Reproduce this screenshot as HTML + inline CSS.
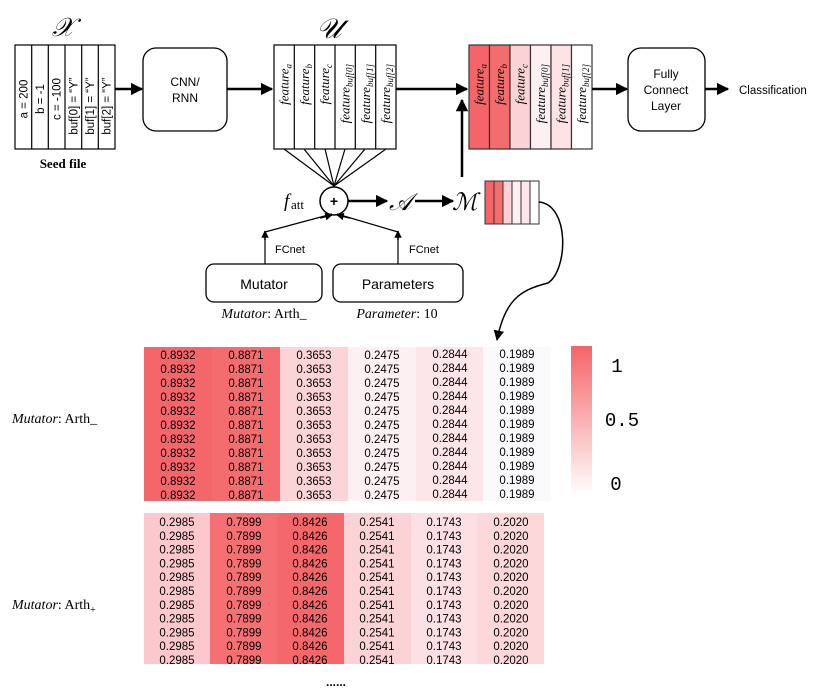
<!DOCTYPE html>
<html><head><meta charset="utf-8"><style>
html,body{margin:0;padding:0;background:#fff;}
svg{display:block;}
.s{font-family:"Liberation Sans",sans-serif;}
.r{font-family:"Liberation Serif",serif;}
.i{font-family:"Liberation Serif",serif;font-style:italic;}
.m{font-family:"Liberation Mono",monospace;}
</style></head><body>
<svg width="830" height="694" viewBox="0 0 830 694" xmlns="http://www.w3.org/2000/svg">
<defs>
<marker id="ah" viewBox="0 0 10 10" refX="9" refY="5" markerWidth="5" markerHeight="5" orient="auto-start-reverse"><path d="M0,0L10,5L0,10z" fill="#000"/></marker>
<marker id="ah2" viewBox="0 0 10 10" refX="9" refY="5" markerWidth="7" markerHeight="7" orient="auto"><path d="M0,0L10,5L0,10z" fill="#000"/></marker>
<linearGradient id="cb" x1="0" y1="0" x2="0" y2="1"><stop offset="0" stop-color="#f46468"/><stop offset="1" stop-color="#fff"/></linearGradient>
</defs>

<text x="63" y="36" class="i" font-size="26" text-anchor="middle">𝒳</text>
<g stroke="#000" stroke-width="1.2" fill="#fff">
<rect x="15" y="45" width="100" height="104"/>
<line x1="31.7" y1="45" x2="31.7" y2="149"/><line x1="48.3" y1="45" x2="48.3" y2="149"/><line x1="65" y1="45" x2="65" y2="149"/><line x1="81.7" y1="45" x2="81.7" y2="149"/><line x1="98.3" y1="45" x2="98.3" y2="149"/>
</g>
<g class="s" font-size="11.5" text-anchor="middle">
<text transform="translate(27.5,99) rotate(-90)">a = 200</text>
<text transform="translate(44,99) rotate(-90)">b = -1</text>
<text transform="translate(60.7,99) rotate(-90)">c = -100</text>
<text transform="translate(77.3,106) rotate(-90)">buf[0] = “Y”</text>
<text transform="translate(94,106) rotate(-90)">buf[1] = “Y”</text>
<text transform="translate(110.7,106) rotate(-90)">buf[2] = “Y”</text>
</g>
<text x="63" y="168" class="r" font-size="13" font-weight="bold" text-anchor="middle">Seed file</text>

<line x1="115" y1="89" x2="142" y2="89" stroke="#000" stroke-width="2.5" marker-end="url(#ah)"/>
<rect x="143" y="48" width="84" height="83" rx="13" fill="#fff" stroke="#000" stroke-width="1.3"/>
<text x="185" y="86" class="s" font-size="12" text-anchor="middle">CNN/</text>
<text x="185" y="102" class="s" font-size="12" text-anchor="middle">RNN</text>
<line x1="227" y1="89" x2="272" y2="89" stroke="#000" stroke-width="2.5" marker-end="url(#ah)"/>

<text x="329" y="38" class="i" font-size="28" text-anchor="middle">𝒰</text>
<g stroke="#000" stroke-width="1.2" fill="#fff">
<rect x="274" y="45" width="122" height="104"/>
<line x1="294.3" y1="45" x2="294.3" y2="149"/><line x1="314.7" y1="45" x2="314.7" y2="149"/><line x1="335" y1="45" x2="335" y2="149"/><line x1="355.3" y1="45" x2="355.3" y2="149"/><line x1="375.7" y1="45" x2="375.7" y2="149"/>
</g>
<g class="i" font-size="13" text-anchor="end">
<text transform="translate(288.5,64) rotate(-90)">feature<tspan font-size="9" dy="3">a</tspan></text>
<text transform="translate(308.8,64) rotate(-90)">feature<tspan font-size="9" dy="3">b</tspan></text>
<text transform="translate(329.2,64) rotate(-90)">feature<tspan font-size="9" dy="3">c</tspan></text>
<text transform="translate(349.5,64) rotate(-90)">feature<tspan font-size="9" dy="3">buf[0]</tspan></text>
<text transform="translate(369.8,64) rotate(-90)">feature<tspan font-size="9" dy="3">buf[1]</tspan></text>
<text transform="translate(390.2,64) rotate(-90)">feature<tspan font-size="9" dy="3">buf[2]</tspan></text>
</g>
<g stroke="#000" stroke-width="1.2">
<line x1="284" y1="149" x2="334" y2="186"/><line x1="304" y1="149" x2="334" y2="186"/><line x1="325" y1="149" x2="334" y2="186"/><line x1="345" y1="149" x2="334" y2="186"/><line x1="365" y1="149" x2="334" y2="186"/><line x1="386" y1="149" x2="334" y2="186"/>
</g>
<line x1="396" y1="89" x2="467" y2="89" stroke="#000" stroke-width="2.5" marker-end="url(#ah)"/>

<circle cx="334" cy="201" r="14" fill="#fff" stroke="#000" stroke-width="1.5"/>
<text x="334" y="206" class="s" font-size="14" font-weight="bold" text-anchor="middle">+</text>
<text x="284" y="207" class="i" font-size="19">f</text><text x="291" y="209" class="r" font-size="13">att</text>
<line x1="348" y1="201" x2="387" y2="201" stroke="#000" stroke-width="2.5" marker-end="url(#ah)"/>
<text x="389" y="210" class="i" font-size="24">𝒜</text>
<line x1="415" y1="201" x2="453" y2="201" stroke="#000" stroke-width="2.5" marker-end="url(#ah)"/>
<text x="452" y="210" class="i" font-size="24">ℳ</text>
<line x1="462" y1="177" x2="462" y2="100" stroke="#000" stroke-width="2.5" marker-end="url(#ah)"/>

<g stroke="#000" stroke-width="1.2" fill="none">
<polyline points="265,264 265,232 332,214" />
<polyline points="398,264 398,232 337,214" />
</g>
<line x1="265" y1="240" x2="265" y2="231" stroke="#000" stroke-width="1.5" marker-end="url(#ah)"/>
<line x1="398" y1="240" x2="398" y2="231" stroke="#000" stroke-width="1.5" marker-end="url(#ah)"/>
<line x1="320" y1="218" x2="332" y2="215" stroke="#000" stroke-width="1.5" marker-end="url(#ah)"/>
<line x1="350" y1="218" x2="337" y2="215" stroke="#000" stroke-width="1.5" marker-end="url(#ah)"/>
<text x="275" y="253" class="s" font-size="11">FCnet</text>
<text x="409" y="253" class="s" font-size="11">FCnet</text>
<rect x="206" y="264" width="116" height="38" rx="8" fill="#fff" stroke="#000" stroke-width="1.3"/>
<text x="264" y="289" class="s" font-size="14" text-anchor="middle">Mutator</text>
<rect x="333" y="264" width="130" height="38" rx="8" fill="#fff" stroke="#000" stroke-width="1.3"/>
<text x="398" y="289" class="s" font-size="14" text-anchor="middle">Parameters</text>
<text x="264" y="318" class="r" font-size="14" text-anchor="middle"><tspan font-style="italic">Mutator</tspan>: Arth_</text>
<text x="397" y="318" class="r" font-size="14" text-anchor="middle"><tspan font-style="italic">Parameter</tspan>: 10</text>

<g stroke="#333" stroke-width="1">
<rect x="485" y="181" width="9" height="43" fill="#f46468"/>
<rect x="494" y="181" width="9" height="43" fill="#f56c6e"/>
<rect x="503" y="181" width="9" height="43" fill="#fbd3d6"/>
<rect x="512" y="181" width="9" height="43" fill="#fdf0f3"/>
<rect x="521" y="181" width="9" height="43" fill="#fde6e9"/>
<rect x="530" y="181" width="9" height="43" fill="#fff"/>
</g>
<path d="M539,202 C570,205 568,270 548,283 C520,290 505,300 497,340" fill="none" stroke="#000" stroke-width="1.5" marker-end="url(#ah2)"/>

<g stroke="#333" stroke-width="1.2">
<rect x="469" y="45" width="20.5" height="104" fill="#f46468"/>
<rect x="489.5" y="45" width="20.5" height="104" fill="#f56c6e"/>
<rect x="510" y="45" width="20.5" height="104" fill="#fbd3d6"/>
<rect x="530.5" y="45" width="20.5" height="104" fill="#fdf0f3"/>
<rect x="551" y="45" width="20.5" height="104" fill="#fde3e6"/>
<rect x="571.5" y="45" width="20.5" height="104" fill="#fff"/>
</g>
<g class="i" font-size="13" text-anchor="end">
<text transform="translate(483.5,64) rotate(-90)">feature<tspan font-size="9" dy="3">a</tspan></text>
<text transform="translate(504,64) rotate(-90)">feature<tspan font-size="9" dy="3">b</tspan></text>
<text transform="translate(524.5,64) rotate(-90)">feature<tspan font-size="9" dy="3">c</tspan></text>
<text transform="translate(545,64) rotate(-90)">feature<tspan font-size="9" dy="3">buf[0]</tspan></text>
<text transform="translate(565.5,64) rotate(-90)">feature<tspan font-size="9" dy="3">buf[1]</tspan></text>
<text transform="translate(586,64) rotate(-90)">feature<tspan font-size="9" dy="3">buf[2]</tspan></text>
</g>
<line x1="592" y1="89" x2="627" y2="89" stroke="#000" stroke-width="2.5" marker-end="url(#ah)"/>
<rect x="628" y="48" width="77" height="83" rx="13" fill="#fff" stroke="#000" stroke-width="1.3"/>
<g class="s" font-size="12" text-anchor="middle">
<text x="666" y="78">Fully</text><text x="666" y="94">Connect</text><text x="666" y="110">Layer</text>
</g>
<line x1="705" y1="89" x2="728" y2="89" stroke="#000" stroke-width="2.5" marker-end="url(#ah)"/>
<text x="739" y="94" class="s" font-size="11.5">Classification</text>

<rect x="144" y="347" width="68" height="154" fill="#f46669"/>
<rect x="212" y="347" width="68" height="154" fill="#f56c6e"/>
<rect x="280" y="347" width="68" height="154" fill="#fbd4d7"/>
<rect x="348" y="347" width="68" height="154" fill="#fdf0f3"/>
<rect x="416" y="347" width="67" height="154" fill="#fde6e9"/>
<rect x="483" y="347" width="68" height="154" fill="#fafafd"/>
<g class="s" font-size="11.5" text-anchor="middle">
<g><text x="178" y="359">0.8932</text><text x="246" y="359">0.8871</text><text x="314" y="359">0.3653</text><text x="382" y="359">0.2475</text><text x="450" y="358">0.2844</text><text x="517" y="358">0.1989</text></g>
<g transform="translate(0,14)"><text x="178" y="359">0.8932</text><text x="246" y="359">0.8871</text><text x="314" y="359">0.3653</text><text x="382" y="359">0.2475</text><text x="450" y="358">0.2844</text><text x="517" y="358">0.1989</text></g>
<g transform="translate(0,28)"><text x="178" y="359">0.8932</text><text x="246" y="359">0.8871</text><text x="314" y="359">0.3653</text><text x="382" y="359">0.2475</text><text x="450" y="358">0.2844</text><text x="517" y="358">0.1989</text></g>
<g transform="translate(0,42)"><text x="178" y="359">0.8932</text><text x="246" y="359">0.8871</text><text x="314" y="359">0.3653</text><text x="382" y="359">0.2475</text><text x="450" y="358">0.2844</text><text x="517" y="358">0.1989</text></g>
<g transform="translate(0,56)"><text x="178" y="359">0.8932</text><text x="246" y="359">0.8871</text><text x="314" y="359">0.3653</text><text x="382" y="359">0.2475</text><text x="450" y="358">0.2844</text><text x="517" y="358">0.1989</text></g>
<g transform="translate(0,70)"><text x="178" y="359">0.8932</text><text x="246" y="359">0.8871</text><text x="314" y="359">0.3653</text><text x="382" y="359">0.2475</text><text x="450" y="358">0.2844</text><text x="517" y="358">0.1989</text></g>
<g transform="translate(0,84)"><text x="178" y="359">0.8932</text><text x="246" y="359">0.8871</text><text x="314" y="359">0.3653</text><text x="382" y="359">0.2475</text><text x="450" y="358">0.2844</text><text x="517" y="358">0.1989</text></g>
<g transform="translate(0,98)"><text x="178" y="359">0.8932</text><text x="246" y="359">0.8871</text><text x="314" y="359">0.3653</text><text x="382" y="359">0.2475</text><text x="450" y="358">0.2844</text><text x="517" y="358">0.1989</text></g>
<g transform="translate(0,112)"><text x="178" y="359">0.8932</text><text x="246" y="359">0.8871</text><text x="314" y="359">0.3653</text><text x="382" y="359">0.2475</text><text x="450" y="358">0.2844</text><text x="517" y="358">0.1989</text></g>
<g transform="translate(0,126)"><text x="178" y="359">0.8932</text><text x="246" y="359">0.8871</text><text x="314" y="359">0.3653</text><text x="382" y="359">0.2475</text><text x="450" y="358">0.2844</text><text x="517" y="358">0.1989</text></g>
<g transform="translate(0,140)"><text x="178" y="359">0.8932</text><text x="246" y="359">0.8871</text><text x="314" y="359">0.3653</text><text x="382" y="359">0.2475</text><text x="450" y="358">0.2844</text><text x="517" y="358">0.1989</text></g>
</g>
<text x="12" y="423" class="r" font-size="14"><tspan font-style="italic">Mutator</tspan>: Arth_</text>

<rect x="571" y="346" width="21" height="149" fill="url(#cb)"/>
<g class="m" font-size="19" text-anchor="middle">
<text x="617" y="372">1</text><text x="622" y="426">0.5</text><text x="616" y="490">0</text>
</g>

<rect x="144" y="513" width="66" height="151" fill="#fbc9cd"/>
<rect x="210" y="513" width="67" height="151" fill="#f57073"/>
<rect x="277" y="513" width="67" height="151" fill="#f4686b"/>
<rect x="344" y="513" width="67" height="151" fill="#fbd3d6"/>
<rect x="411" y="513" width="66" height="151" fill="#fde0e3"/>
<rect x="477" y="513" width="67" height="151" fill="#fcd8db"/>
<g class="s" font-size="11.5" text-anchor="middle">
<g><text x="177" y="526">0.2985</text><text x="244" y="526">0.7899</text><text x="310" y="526">0.8426</text><text x="377" y="526">0.2541</text><text x="444" y="526">0.1743</text><text x="511" y="526">0.2020</text></g>
<g transform="translate(0,13.8)"><text x="177" y="526">0.2985</text><text x="244" y="526">0.7899</text><text x="310" y="526">0.8426</text><text x="377" y="526">0.2541</text><text x="444" y="526">0.1743</text><text x="511" y="526">0.2020</text></g>
<g transform="translate(0,27.6)"><text x="177" y="526">0.2985</text><text x="244" y="526">0.7899</text><text x="310" y="526">0.8426</text><text x="377" y="526">0.2541</text><text x="444" y="526">0.1743</text><text x="511" y="526">0.2020</text></g>
<g transform="translate(0,41.4)"><text x="177" y="526">0.2985</text><text x="244" y="526">0.7899</text><text x="310" y="526">0.8426</text><text x="377" y="526">0.2541</text><text x="444" y="526">0.1743</text><text x="511" y="526">0.2020</text></g>
<g transform="translate(0,55.2)"><text x="177" y="526">0.2985</text><text x="244" y="526">0.7899</text><text x="310" y="526">0.8426</text><text x="377" y="526">0.2541</text><text x="444" y="526">0.1743</text><text x="511" y="526">0.2020</text></g>
<g transform="translate(0,69)"><text x="177" y="526">0.2985</text><text x="244" y="526">0.7899</text><text x="310" y="526">0.8426</text><text x="377" y="526">0.2541</text><text x="444" y="526">0.1743</text><text x="511" y="526">0.2020</text></g>
<g transform="translate(0,82.8)"><text x="177" y="526">0.2985</text><text x="244" y="526">0.7899</text><text x="310" y="526">0.8426</text><text x="377" y="526">0.2541</text><text x="444" y="526">0.1743</text><text x="511" y="526">0.2020</text></g>
<g transform="translate(0,96.6)"><text x="177" y="526">0.2985</text><text x="244" y="526">0.7899</text><text x="310" y="526">0.8426</text><text x="377" y="526">0.2541</text><text x="444" y="526">0.1743</text><text x="511" y="526">0.2020</text></g>
<g transform="translate(0,110.4)"><text x="177" y="526">0.2985</text><text x="244" y="526">0.7899</text><text x="310" y="526">0.8426</text><text x="377" y="526">0.2541</text><text x="444" y="526">0.1743</text><text x="511" y="526">0.2020</text></g>
<g transform="translate(0,124.2)"><text x="177" y="526">0.2985</text><text x="244" y="526">0.7899</text><text x="310" y="526">0.8426</text><text x="377" y="526">0.2541</text><text x="444" y="526">0.1743</text><text x="511" y="526">0.2020</text></g>
<g transform="translate(0,138)"><text x="177" y="526">0.2985</text><text x="244" y="526">0.7899</text><text x="310" y="526">0.8426</text><text x="377" y="526">0.2541</text><text x="444" y="526">0.1743</text><text x="511" y="526">0.2020</text></g>
</g>
<text x="12" y="609" class="r" font-size="14"><tspan font-style="italic">Mutator</tspan>: Arth<tspan font-size="10" dy="4">+</tspan></text>
<text x="336" y="686" class="s" font-size="12" text-anchor="middle" font-weight="bold">......</text>
</svg>
</body></html>
